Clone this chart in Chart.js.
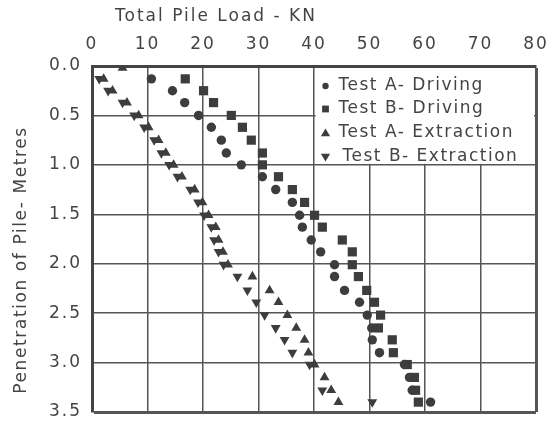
<!DOCTYPE html>
<html>
<head>
<meta charset="utf-8">
<script src="https://cdn.jsdelivr.net/npm/chart.js@4"></script>
<style>
    body { margin: 0; background: #fff; }
    #wrap { width: 548px; height: 422px; }
</style>
</head>
<body>
<div id="wrap"><canvas id="pileChart" width="548" height="422"></canvas></div>
<script>
// depth of each reading, metres (shared by all four tests)
var depths = [0.02, 0.13, 0.25, 0.37, 0.5, 0.62, 0.75, 0.88, 1.0, 1.12, 1.25, 1.38, 1.51, 1.63,
              1.76, 1.88, 2.01, 2.13, 2.27, 2.39, 2.52, 2.65, 2.77, 2.9, 3.02, 3.15, 3.28, 3.4];

// total pile load, KN (null = no reading at that depth)
var testADriving = [null, 10.7, 14.5, 16.7, 19.2, 21.5, 23.3, 24.2, 26.9, 30.7, 33.1, 36.1, 37.4, 37.9,
                    39.5, 41.2, 43.7, 43.7, 45.5, 48.2, 49.6, 50.4, 50.5, 51.8, 56.3, 57.2, 57.7, 61.0];
var testBDriving = [null, 16.8, 20.1, 21.9, 25.1, 27.1, 28.7, 30.7, 30.7, 33.6, 36.1, 38.3, 40.1, 41.5,
                    45.1, 46.9, 46.9, 48.0, 49.5, 50.9, 52.0, 51.6, 54.1, 54.3, 56.8, 58.1, 58.3, 58.8];
var testAExtraction = [5.5, 2.1, 3.7, 6.3, 8.4, 10.2, 12.0, 13.3, 14.7, 16.2, 18.5, 19.9, 21.0, 22.3,
                       22.8, 23.6, 24.5, 28.9, 32.0, 33.6, 35.2, 36.8, 38.3, 39.0, 40.1, 41.9, 43.1, 44.4];
var testBExtraction = [null, 1.3, 2.9, 5.5, 7.6, 9.4, 11.2, 12.5, 13.9, 15.4, 17.7, 19.1, 20.2, 21.5,
                       22.0, 22.8, 23.7, 26.2, 28.0, 29.6, 31.1, 33.1, 34.7, 36.1, 39.2, null, 41.5, 50.5];

var seriesNames = ["Test A- Driving", "Test B- Driving", "Test A- Extraction", "Test B- Extraction"];
var loadTicks = [0, 10, 20, 30, 40, 50, 60, 70, 80];
var depthTicks = [0.0, 0.5, 1.0, 1.5, 2.0, 2.5, 3.0, 3.5];

var INK = "#3d3d3d";
var TEXT = "#444";
var FONT = "DejaVu Sans";

function toPoints(loads) {
    var pts = [];
    for (var i = 0; i < depths.length; i++) {
        if (loads[i] !== null) {
            pts.push({ x: loads[i], y: depths[i] });
        }
    }
    return pts;
}

function drawMarker(ctx, kind, x, y, s) {
    ctx.beginPath();
    if (kind === "circle") {
        ctx.arc(x, y, s, 0, Math.PI * 2);
    } else if (kind === "rect") {
        ctx.rect(x - s, y - s, s * 2, s * 2);
    } else if (kind === "up") {
        ctx.moveTo(x, y - s * 1.1);
        ctx.lineTo(x + s * 1.1, y + s * 0.8);
        ctx.lineTo(x - s * 1.1, y + s * 0.8);
    } else {
        ctx.moveTo(x, y + s * 1.1);
        ctx.lineTo(x + s * 1.1, y - s * 0.8);
        ctx.lineTo(x - s * 1.1, y - s * 0.8);
    }
    ctx.closePath();
    ctx.fill();
}

// the scanned lettering is wide and loosely spaced
var spacingPlugin = {
    id: "spacing",
    beforeDraw: function (chart) { chart.ctx.letterSpacing = "2px"; },
    afterDraw: function (chart) { chart.ctx.letterSpacing = "0px"; }
};

// axis titles sit off-centre in the original, so they are drawn here
var titlesPlugin = {
    id: "titles",
    afterDraw: function (chart) {
        var ctx = chart.ctx;
        ctx.save();
        ctx.fillStyle = TEXT;
        ctx.font = "17px '" + FONT + "'";
        ctx.letterSpacing = "2px";
        ctx.textAlign = "center";
        ctx.textBaseline = "middle";
        ctx.fillText("Total Pile Load - KN", 216, 17);
        ctx.letterSpacing = "1.6px";
        ctx.translate(22, 260);
        ctx.rotate(-Math.PI / 2);
        ctx.fillText("Penetration of Pile- Metres", 0, 0);
        ctx.restore();
    }
};

// legend boxed into the top right cell block
var legendPlugin = {
    id: "boxLegend",
    afterDraw: function (chart) {
        var ctx = chart.ctx;
        var xs = chart.scales.x, ys = chart.scales.y;
        var left = xs.getPixelForValue(40) + 1.5;
        var top = chart.chartArea.top + 2;
        var right = chart.chartArea.right - 2;
        var bottom = ys.getPixelForValue(1.0) - 1;
        ctx.save();
        ctx.fillStyle = "#fff";
        ctx.fillRect(left, top, right - left, bottom - top);

        var kinds = ["circle", "rect", "up", "down"];
        var sizes = [3.2, 3.4, 4.2, 4.2];
        var rows = [86, 109, 133, 157];
        ctx.font = "17px '" + FONT + "'";
        ctx.letterSpacing = "1.5px";
        ctx.textBaseline = "middle";
        for (var i = 0; i < kinds.length; i++) {
            ctx.fillStyle = INK;
            drawMarker(ctx, kinds[i], left + 10, rows[i], sizes[i]);
            ctx.fillStyle = TEXT;
            ctx.fillText(seriesNames[i], left + (i === 3 ? 27 : 23), rows[i]);
        }
        ctx.restore();
    }
};

function edgeWidth(edge) {
    return function (c) {
        return (c.tick && c.tick.value === edge) ? 3 : 1.5;
    };
}

function noPadding(s) {
    s.paddingLeft = 0;
    s.paddingRight = 0;
    s.paddingTop = 0;
    s.paddingBottom = 0;
}

var chart = new Chart(document.getElementById("pileChart"), {
    type: "scatter",
    data: {
        datasets: [
            { label: seriesNames[0], data: toPoints(testADriving), pointStyle: "circle", pointRadius: 4.7 },
            { label: seriesNames[1], data: toPoints(testBDriving), pointStyle: "rect", pointRadius: 6.5 },
            { label: seriesNames[2], data: toPoints(testAExtraction), pointStyle: "triangle", pointRadius: 5.7 },
            { label: seriesNames[3], data: toPoints(testBExtraction), pointStyle: "triangle", pointRotation: 180, pointRadius: 5.7 }
        ]
    },
    options: {
        responsive: false,
        animation: false,
        layout: { padding: { top: 0, left: 0, right: 12, bottom: 10 } },
        elements: {
            point: { backgroundColor: INK, borderColor: INK, borderWidth: 0, hoverRadius: 5 }
        },
        plugins: {
            legend: { display: false },
            tooltip: { enabled: false }
        },
        scales: {
            x: {
                type: "linear",
                position: "top",
                min: 0,
                max: 80,
                afterBuildTicks: function (s) { s.ticks = loadTicks.map(function (v) { return { value: v }; }); },
                afterFit: function (s) { s.height = 66; noPadding(s); },
                ticks: { color: TEXT, font: { family: FONT, size: 17 }, padding: 11 },
                grid: { color: "#555", lineWidth: edgeWidth(80), drawTicks: false },
                border: { color: "#444", width: 3 }
            },
            y: {
                type: "linear",
                reverse: true,
                min: 0,
                max: 3.5,
                afterBuildTicks: function (s) { s.ticks = depthTicks.map(function (v) { return { value: v }; }); },
                afterFit: function (s) { s.width = 92; noPadding(s); },
                ticks: {
                    color: TEXT,
                    font: { family: FONT, size: 17 },
                    padding: 10,
                    callback: function (v) { return v.toFixed(1); }
                },
                grid: { color: "#555", lineWidth: edgeWidth(3.5), drawTicks: false },
                border: { color: "#444", width: 3 }
            }
        }
    },
    plugins: [spacingPlugin, titlesPlugin, legendPlugin]
});
</script>
</body>
</html>
